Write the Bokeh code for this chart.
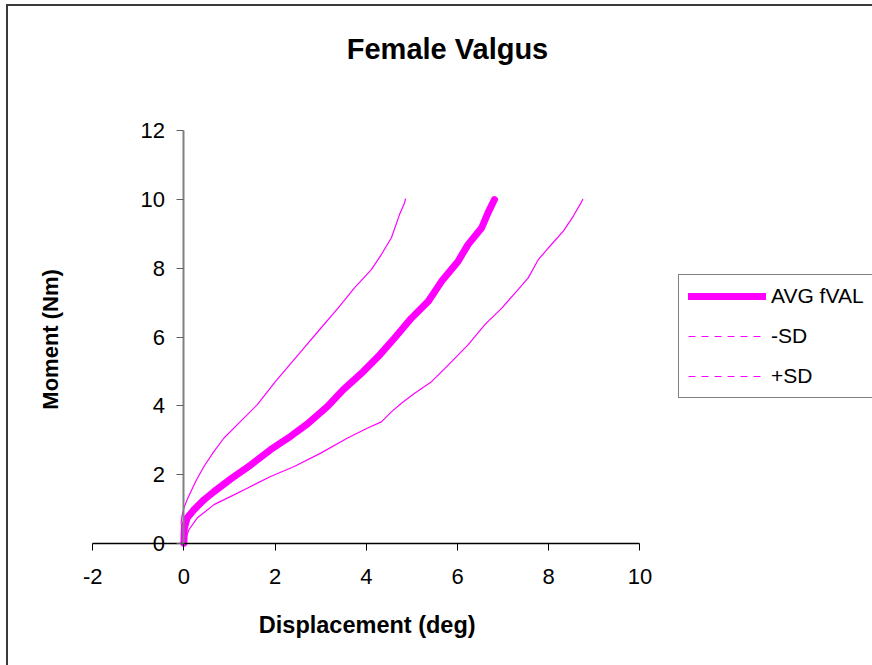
import math
from bokeh.plotting import figure
from bokeh.models import Range1d, Label, Legend, LegendItem, FixedTicker, LinearAxis
from bokeh.embed import file_html
from bokeh.resources import INLINE

# ---- data ----
avg_x = [0, 0.01, 0.07, 0.22, 0.44, 0.66, 1.03, 1.47, 1.9, 2.34, 2.71, 3.15, 3.49,
         3.89, 4.26, 4.62, 4.99, 5.36, 5.65, 6.01, 6.23, 6.53, 6.67, 6.81]
avg_y = [0, 0.44, 0.73, 0.97, 1.26, 1.5, 1.87, 2.28, 2.72, 3.11, 3.47, 3.98, 4.46,
         4.94, 5.43, 5.97, 6.55, 7.04, 7.62, 8.2, 8.69, 9.18, 9.62, 10.0]

msd_x = [0, -0.02, -0.06, -0.04, 0.0, 0.07, 0.26, 0.44, 0.66, 0.88, 1.21, 1.61, 2.01,
         2.57, 2.94, 3.38, 3.74, 4.11, 4.33, 4.55, 4.73, 4.84, 4.86]
msd_y = [0, 0.3, 0.6, 0.8, 1.02, 1.26, 1.8, 2.23, 2.67, 3.06, 3.5, 4.03, 4.71,
         5.58, 6.16, 6.84, 7.43, 7.96, 8.4, 8.89, 9.57, 9.91, 10.03]

psd_x = [0, 0.11, 0.29, 0.66, 1.03, 1.39, 1.9, 2.42, 3.0, 3.59, 4.03, 4.33, 4.55, 4.77,
         5.06, 5.43, 5.8, 6.23, 6.6, 6.97, 7.26, 7.55, 7.77, 7.99, 8.32, 8.54, 8.71, 8.75]
psd_y = [0, 0.39, 0.73, 1.12, 1.36, 1.6, 1.94, 2.23, 2.62, 3.06, 3.35, 3.53, 3.82, 4.07,
         4.36, 4.7, 5.19, 5.77, 6.36, 6.84, 7.28, 7.72, 8.25, 8.59, 9.08, 9.52, 9.91, 10.02]

x_ticks = [-2, 0, 2, 4, 6, 8, 10]
y_ticks = [0, 2, 4, 6, 8, 10, 12]

series_names = ["AVG fVAL", "-SD", "+SD"]
title_text = "Female Valgus"
x_label = "Displacement (deg)"
y_label = "Moment (Nm)"

MAG = "#FF00FF"
FONT = "Liberation Sans"
NAN = float("nan")

# The frame fills the whole canvas, so the view is wider than the axes' bounds
p = figure(width=866, height=661,
           x_range=Range1d(-3.846, 15.143), y_range=Range1d(-3.62, 15.62),
           output_backend="svg", toolbar_location=None,
           x_axis_location=None, y_axis_location=None, min_border=0)
p.title.visible = False
p.margin = (4, 0, 0, 6)
p.styles = {"border-top": "2px solid #3a3a3a", "border-left": "2px solid #3a3a3a",
            "box-sizing": "border-box"}
p.outline_line_color = None
p.grid.visible = False
p.background_fill_color = "white"
p.border_fill_color = "white"

xax = LinearAxis(fixed_location=0, bounds=(x_ticks[0], x_ticks[-1]),
                 ticker=FixedTicker(ticks=x_ticks))
yax = LinearAxis(fixed_location=0, bounds=(y_ticks[0], y_ticks[-1]),
                 ticker=FixedTicker(ticks=y_ticks))
xax.major_label_overrides = {t: str(t) for t in x_ticks}
yax.major_label_overrides = {t: str(t) for t in y_ticks}
p.add_layout(xax, "below")
p.add_layout(yax, "left")
for ax in (xax, yax):
    ax.major_tick_in = 0
    ax.major_tick_out = 7
    ax.minor_tick_line_color = None
    ax.major_label_text_font = FONT
    ax.major_label_text_font_size = "22px"
    ax.major_label_text_color = "black"
xax.axis_line_color = "black"
xax.major_tick_line_color = "black"
xax.axis_line_width = 1.5
xax.major_label_standoff = 19
yax.axis_line_color = "#808080"
yax.major_tick_line_color = "#606060"
yax.axis_line_width = 2
yax.major_label_standoff = 12

# lines
r_avg = p.line(avg_x, avg_y, line_color=MAG, line_width=7, line_cap="round", line_join="round")
r_m = p.line(msd_x, msd_y, line_color=MAG, line_width=1.2)
r_p = p.line(psd_x, psd_y, line_color=MAG, line_width=1.2)

# legend glyphs (dashed, as in the reference legend); no visible data
l_m = p.line([NAN, NAN], [NAN, NAN], line_color=MAG, line_width=1.2, line_dash="7 6")
l_p = p.line([NAN, NAN], [NAN, NAN], line_color=MAG, line_width=1.2, line_dash="7 6")

legend = Legend(items=[LegendItem(label=series_names[0], renderers=[r_avg]),
                       LegendItem(label=series_names[1], renderers=[l_m]),
                       LegendItem(label=series_names[2], renderers=[l_p])],
                location=(670, 269))
legend.label_text_font = FONT
legend.label_text_font_size = "21px"
legend.label_text_color = "black"
legend.glyph_width = 78
legend.glyph_height = 20
legend.label_standoff = 5
legend.spacing = 16
legend.padding = 9
legend.margin = 0
legend.border_line_color = "black"
legend.border_line_width = 1.2
legend.background_fill_color = "white"
p.add_layout(legend, "center")

# titles
p.add_layout(Label(x=5.78, y=14.39, text=title_text, text_font=FONT, text_font_size="29px",
                   text_font_style="bold", text_align="center", text_baseline="middle",
                   text_color="black"))
p.add_layout(Label(x=4.02, y=-2.39, text=x_label, text_font=FONT, text_font_size="23.5px",
                   text_font_style="bold", text_align="center", text_baseline="middle",
                   text_color="black"))
p.add_layout(Label(x=-2.92, y=5.93, text=y_label, text_font=FONT, text_font_size="22px",
                   text_font_style="bold", text_align="center", text_baseline="middle",
                   angle=math.pi / 2, text_color="black"))

open("out.html", "w").write(file_html(p, INLINE))
